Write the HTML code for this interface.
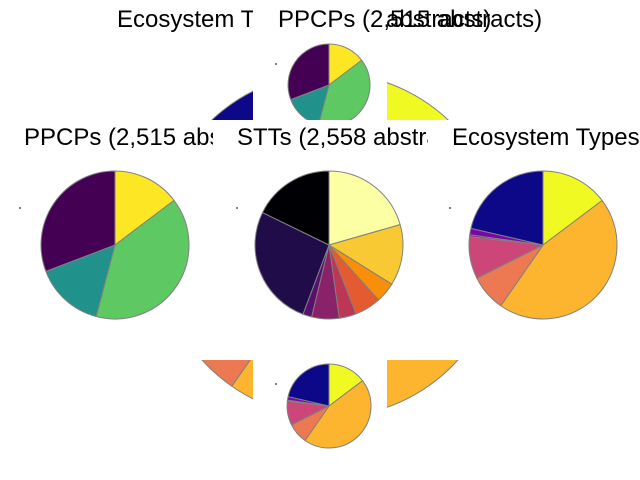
<!DOCTYPE html>
<html><head><meta charset="utf-8"><style>body{margin:0;background:#fff}svg{display:block;font-family:"Liberation Sans",sans-serif}</style></head>
<body>
<svg id="fig" width="640" height="480" viewBox="0 0 640 480" xmlns="http://www.w3.org/2000/svg">
<defs>
<clipPath id="cl"><rect x="0" y="0" width="213" height="480"/></clipPath>
<clipPath id="cm"><rect x="213" y="0" width="215" height="480"/></clipPath>
</defs>
<rect width="640" height="480" fill="#fff"/>
</svg>
<script>
const ppcpLabels=["P1","P2","P3","P4"];
const ppcpValues=[14.7,39.4,15.1,30.8];
const ppcpColors=["#fde725","#5ec962","#21918c","#440154"];
const sttLabels=["S1","S2","S3","S4","S5","S6","S7","S8","S9"];
const sttValues=[74,48,16,20.6,13.4,21.6,7,95.4,64];
const sttColors=["#fcffa4","#f8c932","#f98e09","#e45a31","#bc3754","#8a226a","#57106e","#210c4a","#000004"];
const ecoLabels=["E1","E2","E3","E4","E5","E6","E7"];
const ecoValues=[53,161.8,28.5,33.2,1.5,5,77];
const ecoColors=["#f0f921","#fdb42f","#ed7953","#cc4778","#9c179e","#7e03a8","#0d0887"];

const NS="http://www.w3.org/2000/svg";
const svg=document.getElementById('fig');
function mk(tag,attrs,parent){const e=document.createElementNS(NS,tag);for(const k in attrs)e.setAttribute(k,attrs[k]);(parent||svg).appendChild(e);return e;}
function pie(cx,cy,r,values,colors,name){
  const g=mk('g',{});
  
  
  const tot=values.reduce((a,b)=>a+b,0);
  let a=0;
  values.forEach((v,i)=>{
    const a0=a/tot*2*Math.PI, a1=(a+v)/tot*2*Math.PI; a+=v;
    const x0=cx+r*Math.sin(a0),y0=cy-r*Math.cos(a0),x1=cx+r*Math.sin(a1),y1=cy-r*Math.cos(a1);
    const large=(a1-a0)>Math.PI?1:0;
    const p=mk('path',{d:`M${cx},${cy}L${x0},${y0}A${r},${r} 0 ${large} 1 ${x1},${y1}Z`,fill:colors[i],stroke:'#808080','stroke-width':1,'stroke-linejoin':'round'},g);
    
    
  });
}
function box(x,y,w,h,name){
  const r=mk('rect',{x:x,y:y,width:w,height:h,fill:'#fff'});
  
  
}
function title(x,y,txt,name,clip){
  const t=mk('text',{x:x,y:y,'font-size':24,fill:'#000'});
  if(clip)t.setAttribute('clip-path',clip);
  t.textContent=txt;
  
  
}
function dash(x,y,name){
  const l=mk('line',{x1:x-1,y1:y,x2:x+1,y2:y,stroke:'#000','stroke-width':1});
  
  
}
// big ecosystem pie (drawn first, mostly covered)
pie(330,245,172,ecoValues,ecoColors,'big-ecosystem-pie');
title(117,27,'Ecosystem Types (2,558 abstracts)','big-ecosystem-title');
// top small axes
box(253,0,134,120,'top-axes-background');
pie(329,85,41,ppcpValues,ppcpColors,'top-ppcp-pie');
dash(276,64,'top-axes-label');
title(278,27,'PPCPs (2,515 abstracts)','top-ppcp-title');
// middle row
box(0,120,213,240,'left-axes-background');
pie(115,245,74,ppcpValues,ppcpColors,'ppcp-pie');
dash(20,208,'left-axes-label');
title(24,145,'PPCPs (2,515 abstracts)','ppcp-title','url(#cl)');
box(213,120,215,240,'middle-axes-background');
pie(329,245,74,sttValues,sttColors,'stt-pie');
dash(237,208,'middle-axes-label');
title(237,145,'STTs (2,558 abstracts)','stt-title','url(#cm)');
box(428,120,212,240,'right-axes-background');
pie(543,245,74,ecoValues,ecoColors,'ecosystem-pie');
dash(450,208,'right-axes-label');
title(452,145,'Ecosystem Types (2,558 abstracts)','ecosystem-title');
// bottom small axes
box(253,360,134,120,'bottom-axes-background');
pie(329,406,42,ecoValues,ecoColors,'bottom-ecosystem-pie');
dash(276,384,'bottom-axes-label');
</script>
</body></html>
